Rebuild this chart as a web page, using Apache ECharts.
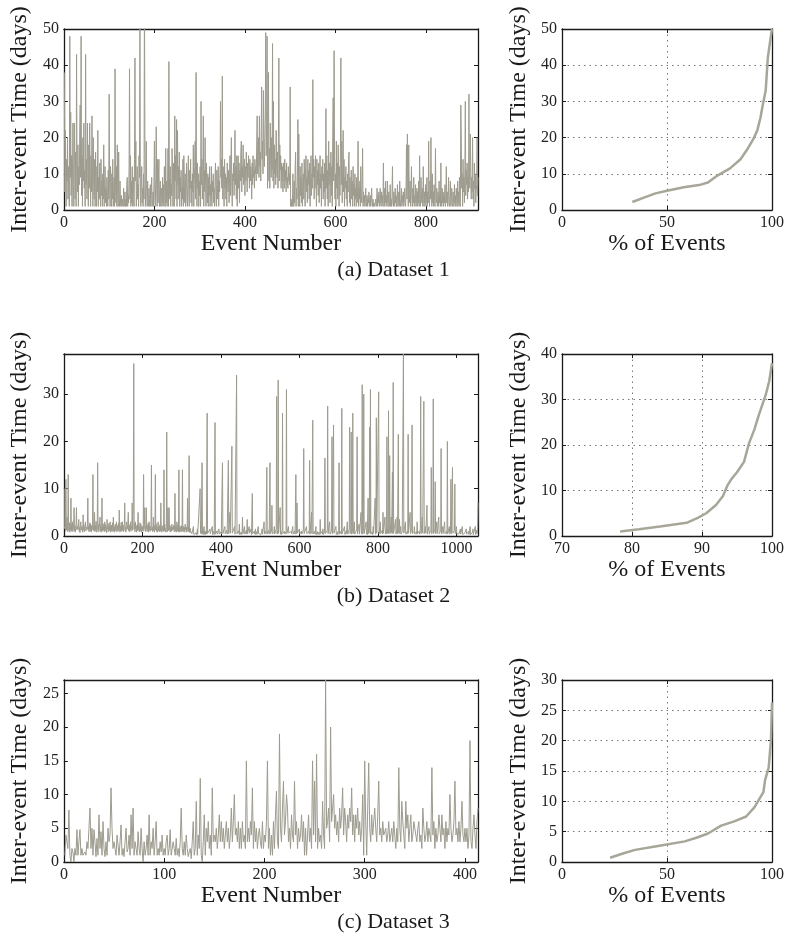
<!DOCTYPE html>
<html>
<head>
<meta charset="utf-8">
<script src="https://cdn.jsdelivr.net/npm/echarts@6/dist/echarts.min.js"></script>
<style>html,body{margin:0;padding:0;background:#fff}#c{width:787px;height:943px}</style>
</head>
<body>
<div id="c"></div>
<script>
// ---------- Dataset 1: inter-event times (days), events 1..915 ----------
const data1 = [
38,5,22,10,1,14,8,20,3,12,6,1,48,9,27,4,15,1,11,24,7,1,24,13,3,
16,1,43,10,5,18,1,12,7,22,29,9,48,4,15,1,20,8,24,6,11,1,43,7,14,
3,24,10,1,18,6,24,9,1,15,5,26,12,1,20,7,3,14,1,16,8,1,12,5,22,
1,9,3,13,6,1,14,4,8,1,10,3,18,1,7,12,2,6,1,9,4,1,11,3,32,
6,1,12,8,1,10,3,14,1,5,9,1,39,7,2,12,1,18,4,1,16,3,1,8,2,
1,4,1,3,2,1,6,1,2,5,1,3,1,7,9,1,4,2,12,39,3,15,1,8,2,
12,1,5,9,1,14,42,8,19,1,6,12,3,7,1,15,9,57,4,1,8,12,2,6,1,
10,3,62,19,1,7,19,5,1,8,2,1,6,3,1,7,1,4,9,1,2,5,1,8,19,
3,1,9,23,6,1,14,2,10,14,1,5,8,1,3,6,1,9,2,7,1,12,4,1,17,
2,8,1,5,17,1,41,9,3,12,1,7,4,17,10,1,13,6,1,26,8,15,3,25,1,
22,7,12,3,16,1,9,5,11,1,6,3,14,1,15,8,2,10,1,6,13,3,1,9,15,
4,1,11,6,14,2,8,1,10,5,18,1,7,12,19,3,38,9,1,13,6,10,1,8,4,
12,1,30,7,14,3,9,26,1,11,5,20,8,1,13,6,2,10,1,9,4,12,1,7,3,
12,1,8,5,10,2,6,1,9,13,4,1,11,7,3,12,1,8,5,11,30,9,14,6,37,
3,12,8,1,14,6,10,3,9,1,13,7,5,11,2,9,15,4,12,20,6,1,10,8,13,
4,9,22,7,12,3,15,1,10,15,6,13,2,11,8,16,19,5,12,9,18,7,10,14,4,
12,8,16,10,5,13,9,15,11,6,14,8,12,10,3,13,7,15,9,11,6,14,10,12,8,
18,26,10,14,20,9,26,12,16,8,22,34,14,19,10,33,18,12,20,26,49,15,24,48,6,
20,38,8,17,6,24,13,9,20,11,46,8,30,6,18,10,14,7,22,12,9,16,6,20,42,
8,18,11,15,6,13,8,12,5,13,9,6,14,8,11,5,13,7,9,6,12,8,10,7,34,
1,3,1,2,1,10,4,1,8,2,12,16,1,6,3,10,25,1,21,7,1,12,4,9,2,
13,1,6,10,3,14,8,1,12,15,5,9,2,14,7,11,3,13,1,8,15,4,10,6,36,
9,14,3,12,6,15,10,1,14,7,11,4,13,2,9,15,6,10,1,12,8,14,3,10,5,
13,1,8,28,6,15,3,11,1,19,7,13,2,9,16,4,12,1,20,31,8,44,15,3,10,
1,19,6,13,3,18,9,1,12,4,16,42,7,19,2,11,22,5,14,1,9,6,12,3,8,
1,10,5,14,16,2,9,1,6,11,3,8,1,12,4,7,1,10,3,6,1,9,2,5,19,
1,6,3,8,1,12,4,2,7,17,1,5,2,4,1,3,6,1,2,4,1,3,2,5,1,
2,4,1,3,6,2,1,3,1,2,1,1,2,3,1,2,6,1,4,2,5,1,3,6,2,
1,5,2,4,1,13,3,1,6,2,8,1,4,2,8,1,3,5,1,2,7,1,3,1,4,
12,2,1,5,3,1,6,2,4,1,3,7,1,2,5,1,8,3,1,2,6,1,4,2,5,
1,3,6,2,1,5,18,3,21,6,1,18,4,2,8,1,5,12,3,1,6,2,9,1,4,
2,7,1,3,6,1,5,2,8,1,15,3,1,9,4,2,6,1,12,3,1,5,2,7,1,
3,9,1,5,2,19,4,1,8,3,20,6,1,10,2,5,1,7,3,1,17,4,2,6,1,
3,5,1,8,2,4,1,13,3,1,6,2,5,1,4,2,7,1,3,12,2,5,1,3,9,
2,1,4,8,1,3,6,2,1,5,3,1,7,2,4,1,6,3,1,8,2,5,1,9,3,
1,29,21,6,10,1,14,5,9,2,12,30,4,11,7,13,3,9,5,32,8,6,21,10,3,
9,5,20,3,8,1,13,6,10,2,5,7,20,4,9
];

// ---------- Dataset 2: events 1..1055 ----------
const data2 = [
1.5,2.2,10,1.0,12,2.5,1.2,4,1.8,0.9,13,2.0,1.1,2.8,0.8,1.9,1.3,8,1.0,2.4,1.2,3.0,0.9,1.7,2.6,
6,1.1,2.0,0.8,1.6,2.7,6,1.3,0.9,2.1,1.4,2.9,3.5,1.0,1.8,0.7,2.3,3.0,1.2,0.9,2.0,1.5,0.8,4.5,1.3,
2.2,0.9,1.6,2.5,3.0,1.1,0.8,1.9,1.4,2.6,8,1.2,2.0,0.9,1.5,2.8,1.0,2.5,1.7,0.8,2.2,1.3,3.0,13,1.1,
2.0,1.4,5,0.9,2.3,1.2,3.1,1.6,0.8,2.0,15.5,1.3,2.4,0.9,1.7,2.9,4,1.1,2.2,0.8,1.5,8,1.9,1.0,2.6,
1.3,2.1,0.9,3.0,1.6,2.4,1.0,1.8,0.7,3.5,1.5,2.2,0.9,1.3,2.7,1.1,1.9,3.0,0.8,1.6,2.3,1.0,1.4,2.8,0.9,
4,1.2,2.0,0.8,1.7,2.5,1.1,1.9,3.0,0.9,1.4,2.2,1.0,2.7,1.3,5.5,1.6,0.8,2.1,1.2,2.9,1.0,1.8,3.0,1.1,
2.3,0.9,1.5,2.6,7,1.2,1.9,0.8,2.2,3.0,1.4,1.0,2.5,5,1.1,1.8,0.9,2.4,1.3,3.0,1.0,2.1,1.6,7,1.2,
2.0,9,36.5,1.4,2.6,0.9,3.0,1.5,2.2,0.8,1.7,2.4,1.1,5,1.3,2.0,0.9,1.6,2.8,1.0,2.5,1.4,0.8,2.1,1.2,
1.9,1.0,13,1.5,2.4,6,1.1,1.8,0.9,6,1.6,2.3,1.0,1.4,2.7,0.8,3.0,1.3,2.0,1.0,1.6,2.5,15,1.2,1.9,
0.9,1.7,4,1.1,2.2,0.8,1.5,13,1.3,2.6,1.0,1.9,0.8,1.4,3.0,1.2,2.1,0.9,1.6,2.4,1.0,7,1.5,0.8,2.0,
1.3,2.2,0.9,1.7,14,1.1,2.5,1.0,1.6,0.8,2.0,22,1.4,0.9,6,1.8,1.1,6,1.3,2.2,0.8,1.5,2.0,1.0,2.5,
1.2,0.8,1.9,1.4,2.3,0.9,1.6,9,1.1,2.0,0.8,1.5,3.0,1.0,1.8,2.4,0.9,14,1.3,0.8,2.1,1.2,1.7,0.9,2.2,
1.0,14,1.5,0.9,2.0,1.2,1.8,0.8,2.5,1.3,1.0,1.9,0.8,1.4,8,1.1,2.0,0.9,17,1.2,0.7,1.6,1.0,0.6,1.3,
0.5,0.3,0.6,0.4,2.0,0.3,0.5,0.2,0.6,0.4,0.3,0.7,0.4,0.2,1.5,0.5,0.3,0.6,0.4,0.8,0.5,10,0.6,3.0,0.4,
0.8,15.5,0.5,1.2,0.3,0.7,2.0,0.4,0.9,0.3,0.6,1.1,0.4,0.8,26,0.5,0.3,0.9,0.4,0.7,0.3,1.5,0.5,0.8,0.3,
0.6,0.4,2.0,0.3,0.7,0.5,1.0,0.3,0.6,24,0.4,0.8,0.3,0.5,1.1,0.4,0.7,0.3,0.6,1.5,0.4,0.8,0.3,0.5,0.9,
0.4,0.7,0.3,15.5,0.5,0.9,0.4,0.6,0.3,2.0,0.5,0.8,0.3,0.6,1.2,0.4,0.7,0.3,16,0.5,0.9,0.4,5,0.6,0.3,
0.8,0.4,19,0.6,1.0,0.3,0.7,0.5,0.9,2.0,0.4,0.6,0.3,0.8,34,0.5,0.3,0.7,0.4,1.1,0.5,2.5,0.3,0.6,0.4,
0.8,0.3,0.6,1.0,4,0.4,0.7,0.3,0.5,2.0,0.4,0.8,0.3,0.6,1.2,0.4,3.5,0.5,0.3,0.7,0.4,2.0,0.6,0.3,0.8,
0.4,1.5,0.3,0.6,9,0.5,0.8,0.3,0.6,1.0,0.4,0.7,1.5,0.3,0.5,0.9,0.4,0.6,0.3,2.0,0.5,0.8,0.3,0.6,0.4,
0.7,0.3,0.5,0.9,1.5,0.4,0.6,0.3,0.8,3.0,0.4,0.6,0.3,1.0,0.5,0.7,14.5,0.4,0.8,0.3,0.6,1.2,0.4,0.7,15.5,
0.5,0.8,0.3,1.0,6.5,0.4,0.7,0.3,0.5,0.9,2.0,0.4,0.6,0.3,0.8,1.5,29.5,0.5,1.0,0.4,33,0.6,0.3,0.8,0.5,
6,0.4,0.9,0.3,0.6,1.2,26,0.5,0.8,0.3,0.6,1.0,0.4,0.7,0.3,0.9,31,0.5,0.3,0.7,0.4,2.0,0.6,0.3,0.8,
0.4,0.6,0.3,1.0,0.5,0.8,0.3,2.0,0.4,0.7,0.3,0.6,1.1,0.4,0.8,13,0.5,0.3,7,0.6,0.4,0.9,0.3,0.6,1.5,
0.4,0.7,0.3,0.5,1.0,0.4,0.8,0.3,0.6,1.2,18.5,0.5,0.3,0.8,0.4,0.6,0.3,2.0,0.5,0.9,0.3,0.6,0.4,1.0,0.5,
16,0.4,0.8,0.3,0.6,5,0.5,0.9,24.5,0.4,0.7,0.3,0.6,1.0,0.4,0.8,2.0,0.3,0.6,0.4,0.9,0.3,0.5,0.8,0.4,
0.6,0.3,3.5,0.5,0.8,0.3,0.6,1.0,0.4,1.5,0.3,0.7,0.4,0.9,16.5,0.5,0.3,0.8,0.4,0.6,1.2,27.5,0.5,0.8,0.3,
0.7,3.0,0.4,0.6,0.3,0.9,1.5,21,0.5,0.8,0.4,23.5,0.6,0.3,1.0,0.4,0.7,2.0,0.3,0.6,0.4,0.9,0.3,0.5,1.2,
15.5,0.4,0.7,0.3,0.6,1.0,0.4,27,0.5,0.8,0.3,0.6,0.4,0.9,2.0,0.3,0.6,0.4,1.0,0.5,0.8,3.0,0.4,0.6,0.3,
0.8,1.5,23,0.5,0.9,1.2,22,0.4,0.7,1.0,26,0.5,0.3,0.8,3.0,0.4,0.6,0.3,0.9,0.5,1.5,21,0.4,0.7,0.3,
0.6,2.5,0.4,0.8,0.3,0.6,5,0.5,1.0,32,0.4,0.7,1.2,30,0.5,0.3,0.8,0.4,0.6,3.0,0.4,0.9,0.3,0.6,8,
0.5,0.8,1.5,23,0.6,31,0.4,0.7,0.3,0.9,0.5,0.3,2.0,0.6,0.4,1.0,0.5,8,0.4,1.2,25,0.6,0.3,0.8,0.5,
1.0,30.5,0.4,0.7,0.3,3.0,0.5,0.9,0.4,0.6,1.2,0.4,5,0.6,0.3,0.8,0.5,4,0.4,0.7,1.0,0.5,21,0.6,1.5,
0.5,26.5,0.6,1.2,17,0.5,0.8,0.4,4,0.6,1.0,13.5,0.5,32.5,0.6,0.4,1.0,0.5,0.8,3.5,0.4,0.7,1.2,4,0.5,
0.8,21.5,0.6,1.0,3.5,0.5,0.8,2.0,0.4,0.7,0.3,0.9,0.5,1.2,38.5,0.6,0.4,0.9,0.5,3.0,0.4,0.7,0.3,0.6,1.0,
0.5,21.5,0.6,1.0,0.4,0.8,5,0.5,0.9,0.4,1.2,23.5,0.5,0.8,0.3,0.6,1.0,2.0,0.4,0.7,0.3,0.6,0.9,0.4,3.0,
0.5,0.8,0.3,0.6,1.0,0.4,0.7,1.5,29.5,0.5,0.8,0.4,4,0.6,0.3,1.0,28.5,0.5,0.8,0.4,2.0,0.6,0.3,0.9,6.5,
0.4,0.7,0.3,0.6,2.0,0.4,0.8,0.3,0.6,1.2,14.5,0.5,0.8,0.4,1.0,29,0.5,0.8,0.4,1.5,11.5,0.5,0.8,0.4,3.0,
0.5,0.8,0.3,0.6,4,0.5,0.8,0.3,0.6,1.0,18.5,0.5,0.8,0.4,2.0,0.5,0.3,0.7,0.4,3.0,0.5,0.8,0.3,0.6,1.0,
0.4,20,0.5,0.8,0.4,0.6,2.0,0.4,0.7,1.0,12,0.5,0.8,0.4,14.5,0.6,0.3,0.8,0.5,1.2,11,0.5,0.3,0.6,2.0,
0.4,0.6,0.3,0.5,0.8,0.3,0.5,0.2,0.6,1.5,0.4,0.3,0.6,0.4,2.0,0.3,0.5,0.2,0.6,0.4,0.3,0.7,0.4,0.3,1.5,
0.4,0.3,0.6,0.2,0.5,1.0,0.3,0.6,0.4,2.0,0.3,0.5,0.2,0.6,0.4,0.8,1.5,0.3,0.5,0.3,0.7,0.4,2.0,0.3,0.6,
0.4,1.2,0.5,1.8,7
];

// ---------- Dataset 3: events 1..413 ----------
const data3 = [
1,4,3.8,2,7.7,1,0,2,1.5,0,2,1,4.8,1,3,4.8,1,2,1,0.8,1.5,1,3,2,5,
8,2,5,1,4.8,3,0.8,3.5,1,7,2,4.5,1,6,2,0.8,3,1,5,3,4,11,5,2,3,
2,1,4,2.5,1,3,5.5,1,2,0.8,3,5,1.5,2,4,1,7,2,8,1,3,2,1,4.5,2,
1,5,2,0,3,1,2,4,1,7,1,3,2,5,1,3,6,1,2,1,3,1.5,4,1,2,
1,3,4,1,2,4.8,1,0.8,3,2,1,3.5,1,2,0.8,3,8,2,1,3,1,4,2,0.8,1.5,
2,0.5,3,6,1,2,9,1,4,2,12.4,1,0,3,7,1,5,3,6,2,4,1,11,3,4,
3,5,2,4,7,3,6,3,5,2,4,6,3,5,2,4,8,3,6,10,4,5,3,6,2,
5,2,6,3,4,2,15,3,5,3,6,4,11,2,6,3,5,2,4,5,3,2,6,2,4,
3,6,15,2,5,1,4,1,6,2,7,10.5,3,2,19,5,3,8,12,4,6,10,8,3,5,
2,7,4,3,12,4,6,2,5,3,4,7,3,6,1,5,1,4,7,3,5,2,15,4,12,
3,16,2,5,3,4,2,9,4,2,27,5,6,8,3,20,6,8,10,5,7,4,6,3,8,
5,7,11,4,8,6,3,7,5,8,6,11,4,7,3,7,5,8,4,6,3,5,10,1,15,
6,1,8,14.7,5,3,7,4,6,8,5,3,7,12,4,5,3,6,4,4.5,5,3,4,6,3,
4,5,3,6,4,2,5,3,14,5,3,9,6,4,2,9,5,7,3,5,7,3,4,6,5,
4,3,5,6,3,4,2,8,5,3,4,6,3,5,4,3,14,4,6,2,5,3,4,7,5,
3,7,4,5,2,6,3,5,4,10,5,3,4,6,12,4,5,3,6,3,5,9,4,3,5,
3,5,2,4,18,3,2,5,7,4,2,6,8
];

// ---------- Distribution curves (% of events vs inter-event time) ----------
const cdf1Pct = [33.5, 39, 44.5, 50, 58, 66, 69.5, 74, 80, 85, 88.5, 91, 93, 94.5, 95.6, 97, 98, 99.2, 100];
const cdf1Val = [2.2, 3.4, 4.6, 5.3, 6.3, 7.0, 7.6, 9.5, 11.5, 14, 17, 19.5, 22, 25.5, 29, 33, 42, 47, 50];

const cdf2Pct = [78.3, 81, 84, 87.8, 89.4, 90.6, 92, 93, 93.6, 94.2, 95, 96, 96.7, 97.5, 98.1, 99.1, 99.6, 100];
const cdf2Val = [1.0, 1.5, 2.1, 2.9, 4.0, 5.0, 6.8, 8.8, 11.0, 12.5, 14.0, 16.3, 20.3, 23.5, 26.5, 31, 34, 38];

const cdf3Pct = [22.9, 29, 34.8, 45, 58.5, 64, 69.5, 75.8, 82, 87.7, 91.6, 95.9, 96.7, 98.4, 99.5, 100];
const cdf3Val = [0.7, 1.4, 2.0, 2.6, 3.4, 4.0, 4.7, 6.0, 6.7, 7.5, 9.0, 11.5, 13.5, 15.5, 20, 26.3];

// ---------- Axis ranges / ticks ----------
const yTicks1 = {min: 0, max: 50, interval: 10};
const yTicks2 = {min: 0, max: 38.5, interval: 10};
const yTicks3 = {min: 0, max: 27, interval: 5};
const xTicksTS1 = {min: 0, max: data1.length, interval: 200};
const xTicksTS2 = {min: 0, max: data2.length, interval: 200};
const xTicksTS3 = {min: 0, max: data3.length, interval: 100};
const xTicksC1 = {min: 0, max: 100, interval: 50};
const xTicksC2 = {min: 70, max: 100, interval: 10};
const xTicksC3 = {min: 0, max: 100, interval: 50};
const yTicksC1 = {min: 0, max: 50, interval: 10};
const yTicksC2 = {min: 0, max: 40, interval: 10};
const yTicksC3 = {min: 0, max: 30, interval: 5};

const captions = ['(a) Dataset 1', '(b) Dataset 2', '(c) Dataset 3'];
const xNameTS = 'Event Number';
const xNameC = '% of Events';
const yName = 'Inter-event Time (days)';

const FONT = '"Liberation Serif", "DejaVu Serif", serif';
const LINE = '#9d9b8e';
const CDFLINE = '#a7a699';
const INK = '#1a1a1a';

const panels = [
  {rect: {left: 57, top: 29, width: 421, height: 181}, x: xTicksTS1, y: yTicks1, xName: xNameTS, grid: false,
   data: data1.map((v, i) => [i + 1, v]), width: 1, color: LINE},
  {rect: {left: 562, top: 29, width: 211, height: 181}, x: xTicksC1, y: yTicksC1, xName: xNameC, grid: true,
   data: cdf1Pct.map((p, i) => [p, cdf1Val[i]]), width: 2.5, color: CDFLINE},
  {rect: {left: 57, top: 354, width: 421, height: 182}, x: xTicksTS2, y: yTicks2, xName: xNameTS, grid: false,
   data: data2.map((v, i) => [i + 1, v]), width: 1, color: LINE},
  {rect: {left: 562, top: 354, width: 211, height: 182}, x: xTicksC2, y: yTicksC2, xName: xNameC, grid: true,
   data: cdf2Pct.map((p, i) => [p, cdf2Val[i]]), width: 2.5, color: CDFLINE},
  {rect: {left: 57, top: 680, width: 421, height: 182}, x: xTicksTS3, y: yTicks3, xName: xNameTS, grid: false,
   data: data3.map((v, i) => [i + 1, v]), width: 1, color: LINE},
  {rect: {left: 562, top: 680, width: 211, height: 182}, x: xTicksC3, y: yTicksC3, xName: xNameC, grid: true,
   data: cdf3Pct.map((p, i) => [p, cdf3Val[i]]), width: 2.5, color: CDFLINE}
];

const grids = [], xAxes = [], yAxes = [], series = [];
const isTick = (v, t) => Math.abs((v - t.min) / t.interval - Math.round((v - t.min) / t.interval)) < 1e-6;

panels.forEach((p, i) => {
  grids.push(Object.assign({containLabel: false}, p.rect));
  const line = {show: true, onZero: false, lineStyle: {color: INK, width: 1.3}};
  const tick = {show: true, inside: true, length: 4, lineStyle: {color: INK, width: 1}};
  const dotted = {show: p.grid, lineStyle: {type: [1.5, 4], color: '#777', width: 1}};
  xAxes.push({
    gridIndex: i, type: 'value', position: 'bottom', min: p.x.min, max: p.x.max, interval: p.x.interval,
    name: p.xName, nameLocation: 'middle', nameGap: 20,
    nameTextStyle: {fontFamily: FONT, fontSize: 24, color: INK},
    axisLine: line, axisTick: tick, splitLine: dotted,
    axisLabel: {fontFamily: FONT, fontSize: 16, color: '#222', margin: 5,
      formatter: v => isTick(v, p.x) ? String(v) : ''}
  });
  xAxes.push({
    gridIndex: i, type: 'value', position: 'top', min: p.x.min, max: p.x.max, interval: p.x.interval,
    axisLine: line, axisTick: tick, splitLine: {show: false}, axisLabel: {show: false}
  });
  yAxes.push({
    gridIndex: i, type: 'value', position: 'left', min: p.y.min, max: p.y.max, interval: p.y.interval,
    name: yName, nameLocation: 'middle', nameGap: 31,
    nameTextStyle: {fontFamily: FONT, fontSize: 24, color: INK},
    axisLine: line, axisTick: tick, splitLine: dotted,
    axisLabel: {fontFamily: FONT, fontSize: 16, color: '#222', margin: 5,
      formatter: v => isTick(v, p.y) ? String(v) : ''}
  });
  yAxes.push({
    gridIndex: i, type: 'value', position: 'right', min: p.y.min, max: p.y.max, interval: p.y.interval,
    axisLine: line, axisTick: tick, splitLine: {show: false}, axisLabel: {show: false}
  });
  series.push({
    type: 'line', xAxisIndex: 2 * i, yAxisIndex: 2 * i, data: p.data,
    symbol: 'none', showSymbol: false, clip: true, z: 1,
    lineStyle: {color: p.color, width: p.width}
  });
});

const captionY = [271, 597, 923];
const graphics = captions.map((t, i) => ({
  type: 'text', left: 'center', top: captionY[i] - 12,
  style: {text: t, font: '22px ' + FONT, fill: INK}
}));

const chart = echarts.init(document.getElementById('c'), null, {renderer: 'canvas'});
chart.setOption({
  animation: false,
  backgroundColor: '#fff',
  grid: grids, xAxis: xAxes, yAxis: yAxes, series: series,
  graphic: graphics
});
</script>
</body>
</html>
